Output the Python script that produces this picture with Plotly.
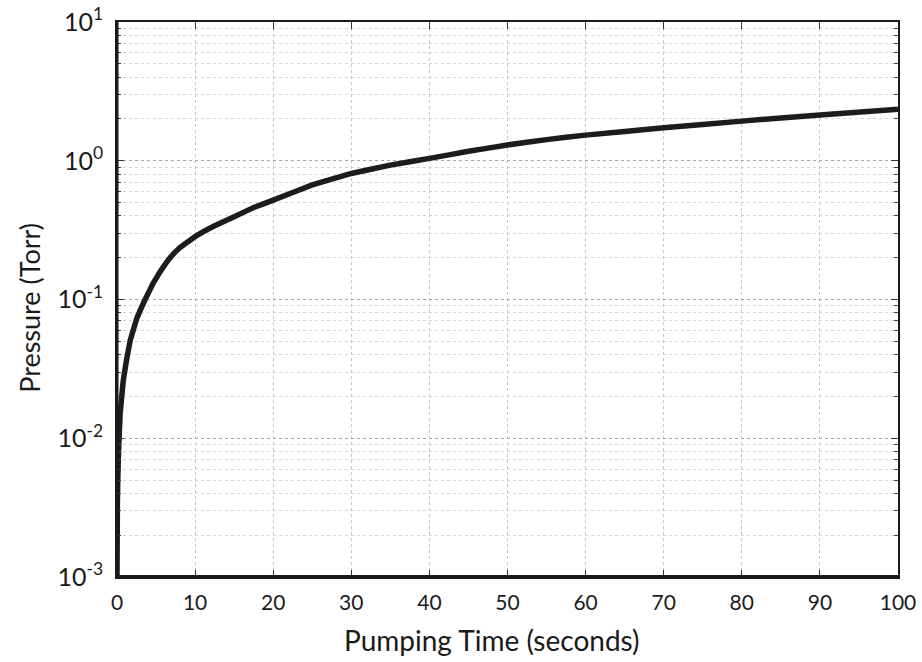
import plotly.graph_objects as go

time_s = [0, 0.05, 0.1, 0.2, 0.4, 0.8, 1.2, 1.7, 2.5, 3.6, 4.6, 5.5, 6.8, 8, 10,
          12.5, 15, 17.5, 20, 25, 30, 35, 40, 45, 50, 55, 60, 70, 80, 90, 100]
pressure_torr = [0.001, 0.0035, 0.005, 0.008, 0.015, 0.026, 0.036, 0.051, 0.072, 0.1,
                 0.13, 0.158, 0.2, 0.235, 0.284, 0.34, 0.395, 0.46, 0.52, 0.67, 0.81,
                 0.93, 1.04, 1.17, 1.30, 1.42, 1.53, 1.73, 1.93, 2.14, 2.35]

y_tickvals = [0.001, 0.01, 0.1, 1, 10]
y_ticktext = ["10<sup>-3</sup>", "10<sup>-2</sup>", "10<sup>-1</sup>", "10<sup>0</sup>", "10<sup>1</sup>"]
x_tickvals = [0, 10, 20, 30, 40, 50, 60, 70, 80, 90, 100]
x_title = "Pumping Time (seconds)"
y_title = "Pressure (Torr)"

FONT = "Lato, 'Open Sans', sans-serif"
INK = "#1a1a1a"

fig = go.Figure()
fig.add_trace(go.Scatter(
    x=time_s, y=pressure_torr, mode="lines",
    line=dict(color="#1c1c1c", width=5.5, shape="spline", smoothing=0.15),
    showlegend=False,
))

fig.update_layout(
    width=922, height=662,
    margin=dict(l=117, r=24, t=22, b=85),
    paper_bgcolor="white", plot_bgcolor="white",
    font=dict(family=FONT, size=21, color=INK),
)

fig.update_xaxes(
    range=[0, 100], tickvals=x_tickvals, automargin=False,
    showline=True, linecolor=INK, linewidth=1.5, mirror="ticks",
    ticks="inside", ticklen=7, tickcolor="#333", ticklabelstandoff=6,
    showgrid=True, gridcolor="#c4c4c4", griddash="dot", gridwidth=1,
    zeroline=False,
    tickfont=dict(family=FONT, size=21, color=INK),
)

fig.update_yaxes(
    type="log", range=[-3, 1], tickvals=y_tickvals, ticktext=y_ticktext, automargin=False,
    showline=True, linecolor=INK, linewidth=1.5, mirror="ticks",
    ticks="inside", ticklen=7, tickcolor="#333", ticklabelstandoff=7,
    showgrid=True, gridcolor="#a6a6a6", griddash="dot", gridwidth=1,
    zeroline=False,
    minor=dict(dtick="D1", showgrid=True, gridcolor="#d4d4d4", griddash="dot",
               ticks="inside", ticklen=4, tickcolor="#444"),
    tickfont=dict(family=FONT, size=25, color=INK),
)

# heavier bottom and left frame edges, as in the reference
fig.add_shape(type="line", xref="paper", yref="paper", x0=0, x1=1, y0=0, y1=0,
              line=dict(color=INK, width=4))
fig.add_shape(type="line", xref="paper", yref="paper", x0=0, x1=0, y0=0, y1=1,
              line=dict(color=INK, width=3))

fig.add_annotation(text=x_title, xref="paper", yref="paper", x=0.48, y=0,
                   yshift=-63, showarrow=False, yanchor="middle",
                   font=dict(family=FONT, size=28, color=INK))
fig.add_annotation(text=y_title, xref="paper", yref="paper", x=0, y=0.485,
                   xshift=-87, showarrow=False, textangle=-90, xanchor="center",
                   font=dict(family=FONT, size=27, color=INK))

fig.write_html("out.html", config={"displayModeBar": False},
               post_script="document.body.style.margin='0';document.body.style.overflow='hidden';")
